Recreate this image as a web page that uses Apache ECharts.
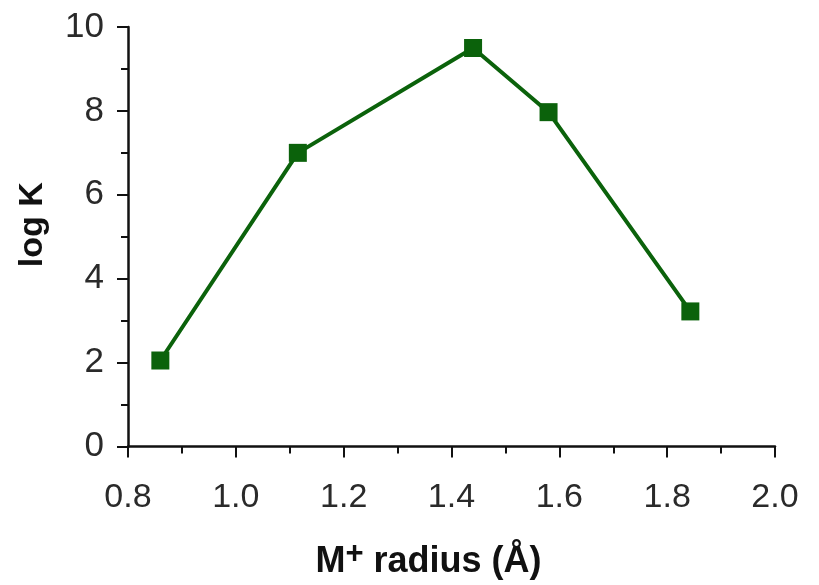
<!DOCTYPE html>
<html>
<head>
<meta charset="utf-8">
<script src="https://cdn.jsdelivr.net/npm/echarts@6/dist/echarts.min.js"></script>
<style>
html,body{margin:0;padding:0;background:#fff;}
#c{width:819px;height:585px;}
</style>
</head>
<body>
<div id="c"></div>
<script>
var radius = [0.86, 1.115, 1.44, 1.58, 1.843];
var logK = [2.05, 7.0, 9.5, 7.97, 3.22];
var xTicks = [0.8, 1.0, 1.2, 1.4, 1.6, 1.8, 2.0];
var yTicks = [0, 2, 4, 6, 8, 10];

var chart = echarts.init(document.getElementById('c'), null, {renderer: 'canvas'});
var pts = radius.map(function (r, i) { return [r, logK[i]]; });
var font = '"Liberation Sans", Arial, sans-serif';
chart.setOption({
  animation: false,
  backgroundColor: '#fff',
  grid: {left: 128, right: 44, top: 27, bottom: 135, containLabel: false},
  xAxis: {
    type: 'value',
    min: xTicks[0], max: xTicks[xTicks.length - 1], interval: 0.2,
    axisLine: {show: true, onZero: false, lineStyle: {color: '#111', width: 2.5}},
    axisTick: {show: true, inside: false, length: 11, lineStyle: {color: '#111', width: 2}},
    minorTick: {show: true, splitNumber: 2, length: 7, lineStyle: {color: '#111', width: 2}},
    splitLine: {show: false},
    axisLabel: {
      margin: 34, color: '#2a2a2a', fontSize: 34, fontFamily: font,
      formatter: function (v) { return v.toFixed(1); }
    },
    name: '{b|M}{s|+}{b| radius (Å)}',
    nameLocation: 'middle', nameGap: 92,
    nameTextStyle: {
      padding: [0, 46, 0, 0],
      rich: {
        b: {fontSize: 36, fontWeight: 'bold', fontFamily: font, color: '#111'},
        s: {fontSize: 31, fontWeight: 'bold', fontFamily: font, color: '#111', padding: [0, 0, 16, 0]}
      }
    }
  },
  yAxis: {
    type: 'value',
    min: yTicks[0], max: yTicks[yTicks.length - 1], interval: 2,
    axisLine: {show: true, lineStyle: {color: '#111', width: 2.5}},
    axisTick: {show: true, inside: false, length: 11, lineStyle: {color: '#111', width: 2}},
    minorTick: {show: true, splitNumber: 2, length: 7, lineStyle: {color: '#111', width: 2}},
    splitLine: {show: false},
    axisLabel: {margin: 24, color: '#2a2a2a', fontSize: 35, fontFamily: font},
    name: 'log K',
    nameLocation: 'middle', nameGap: 78, nameRotate: 90,
    nameTextStyle: {fontSize: 34, fontWeight: 'bold', fontFamily: font, color: '#111', padding: [0, 0, 0, 24]}
  },
  series: [{
    type: 'line',
    data: pts,
    symbol: 'rect',
    symbolSize: 18,
    itemStyle: {color: '#0b620b'},
    lineStyle: {color: '#0b620b', width: 4}
  }]
});
</script>
</body>
</html>
